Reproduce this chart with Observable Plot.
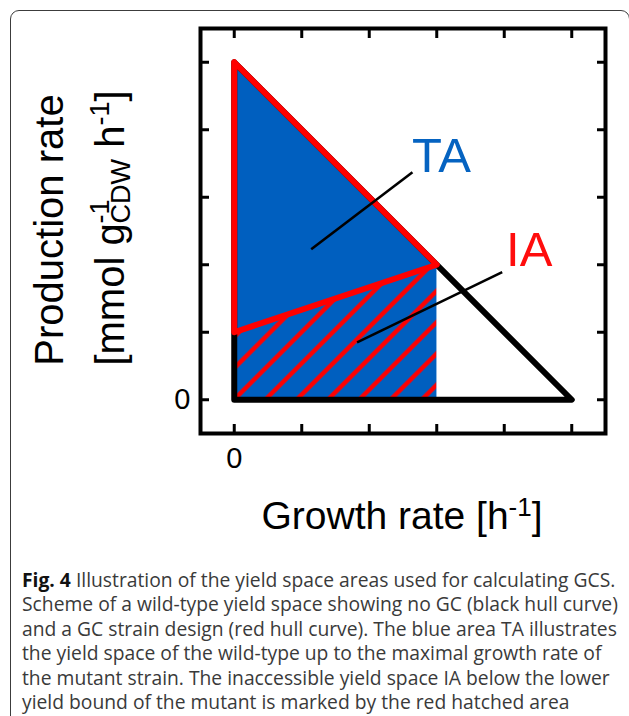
<!DOCTYPE html>
<html>
<head>
<meta charset="utf-8">
<script src="https://cdn.jsdelivr.net/npm/d3@7"></script>
<script src="https://cdn.jsdelivr.net/npm/@observablehq/plot@0.6"></script>
<style>
  html, body { margin: 0; padding: 0; background: #fff; width: 629px; height: 716px; overflow: hidden; }
  #card { position: absolute; left: 10px; top: 10px; width: 620px; height: 740px; border: 1.5px solid #3c3c3c; border-radius: 9px; box-sizing: border-box; }
  #chart { position: absolute; left: 0; top: 0; }
  #caption { position: absolute; left: 22px; top: 568px; font-family: "Open Sans", sans-serif; font-size: 19.3px; line-height: 24.4px; color: #3a3a3a; white-space: nowrap; }
  #caption b { color: #111; }
</style>
</head>
<body>
<div id="card"></div>
<div id="chart"></div>
<div id="caption"></div>
<script>
// ---- data ----
const xTicks = [0, 1, 2, 3, 4, 5];
const yTicks = [0, 1, 2, 3, 4, 5];
const tickLabelValues = [0];

// wild-type hull (black)
const wildX = [0, 0, 5, 0];
const wildY = [0, 5, 0, 0];
// mutant hull (red)
const mutX = [0, 3, 0, 0];
const mutY = [5, 2, 1, 5];
// TA area (blue): under wild-type upper bound up to mutant max growth
const taX = [0, 3];
const taTop = [5, 2];
// IA area (red hatched): under mutant lower bound
const iaX = [0, 3];
const iaTop = [1, 2];

// annotations
const annoText = ["TA", "IA"];
const annoX = [3.07, 4.37];
const annoY = [3.61, 2.22];
const annoColor = ["#0563c1", "#ff0d0d"];
const ptrX1 = [2.64, 3.97];
const ptrY1 = [3.37, 1.89];
const ptrX2 = [1.14, 1.82];
const ptrY2 = [2.23, 0.85];

const captionLines = [
  ["Fig. 4", " Illustration of the yield space areas used for calculating GCS."],
  ["", "Scheme of a wild-type yield space showing no GC (black hull curve)"],
  ["", "and a GC strain design (red hull curve). The blue area TA illustrates"],
  ["", "the yield space of the wild-type up to the maximal growth rate of"],
  ["", "the mutant strain. The inaccessible yield space IA below the lower"],
  ["", "yield bound of the mutant is marked by the red hatched area"]
];

// ---- build tables ----
const wild = wildX.map((x, i) => ({x, y: wildY[i]}));
const mut = mutX.map((x, i) => ({x, y: mutY[i]}));
const ta = taX.map((x, i) => ({x, y: taTop[i]}));
const ia = iaX.map((x, i) => ({x, y: iaTop[i]}));
const anno = annoText.map((t, i) => ({t, x: annoX[i], y: annoY[i], c: annoColor[i]}));
const ptr = ptrX1.map((x1, i) => ({x1, y1: ptrY1[i], x2: ptrX2[i], y2: ptrY2[i]}));

const BLUE = "#005fbf";
const RED = "#ff0000";

const chart = Plot.plot({
  width: 629,
  height: 560,
  marginLeft: 200,
  marginRight: 24,
  marginTop: 28,
  marginBottom: 127,
  x: {domain: [-0.5, 5.5]},
  y: {domain: [-0.5, 5.5]},
  style: {background: "transparent", fontFamily: "'Liberation Sans', Arial, sans-serif", color: "black", overflow: "visible"},
  marks: [
    Plot.areaY(ta, {x: "x", y1: 0, y2: "y", fill: BLUE, curve: "linear"}),
    Plot.areaY(ia, {x: "x", y1: 0, y2: "y", fill: "url(#iaHatch)", curve: "linear"}),
    Plot.line(wild, {x: "x", y: "y", stroke: "black", strokeWidth: 6, strokeLinejoin: "round", strokeLinecap: "round"}),
    Plot.line(mut, {x: "x", y: "y", stroke: RED, strokeWidth: 6, strokeLinejoin: "round", strokeLinecap: "round"}),
    Plot.link(ptr, {x1: "x1", y1: "y1", x2: "x2", y2: "y2", stroke: "black", strokeWidth: 2.6}),
    Plot.text(anno, {x: "x", y: "y", text: "t", fill: "c", fontSize: 49, lineAnchor: "middle", textAnchor: "middle"}),
    Plot.frame({stroke: "black", strokeWidth: 4}),
    Plot.axisX(xTicks, {anchor: "bottom", tickSize: -9, strokeWidth: 3, fill: "none", label: null}),
    Plot.axisX(xTicks, {anchor: "top", tickSize: -9, strokeWidth: 3, fill: "none", label: null}),
    Plot.axisY(yTicks, {anchor: "left", tickSize: -9, strokeWidth: 3, fill: "none", label: null}),
    Plot.axisY(yTicks, {anchor: "right", tickSize: -9, strokeWidth: 3, fill: "none", label: null}),
    Plot.axisX(tickLabelValues, {anchor: "bottom", tickSize: 0, tickPadding: 14, fontSize: 29, label: null, fill: "black", tickFormat: (d) => String(d)}),
    Plot.axisY(tickLabelValues, {anchor: "left", tickSize: 0, tickPadding: 10, fontSize: 29, label: null, fill: "black", tickFormat: (d) => String(d)})
  ]
});

document.getElementById("chart").appendChild(chart);

const svg = d3.select(chart);
// hatch pattern for the IA area
const defs = svg.insert("defs", ":first-child");
const hw = 31.3 / Math.SQRT2;
const pat = defs.append("pattern")
  .attr("id", "iaHatch")
  .attr("patternUnits", "userSpaceOnUse")
  .attr("width", hw)
  .attr("height", hw)
  .attr("patternTransform", "translate(23.35,0) rotate(45)");
pat.append("rect").attr("width", hw).attr("height", hw).attr("fill", BLUE);
pat.append("rect").attr("x", hw / 2 - 2.2).attr("y", 0).attr("width", 4.4).attr("height", hw)
  .attr("fill", RED);

// axis titles with super/subscripts
function richLabel(tx, ty, rot, fontSize, parts) {
  const t = svg.append("text")
    .attr("transform", `translate(${tx},${ty}) rotate(${rot})`)
    .attr("font-family", "'Liberation Sans', Arial, sans-serif")
    .attr("font-size", fontSize)
    .attr("fill", "black")
    .attr("text-anchor", "middle");
  let shift = 0;
  let lastLen = 0;
  for (const p of parts) {
    const target = p.shift || 0;
    const ts = t.append("tspan").text(p.t).attr("dy", target - shift);
    if (p.size) ts.attr("font-size", p.size);
    if (p.back) ts.attr("dx", -lastLen);
    shift = target;
    lastLen = ts.node().getComputedTextLength();
  }
  return t;
}

richLabel(402, 529, 0, 39, [
  {t: "Growth rate [h"},
  {t: "-1", size: 26, shift: -13},
  {t: "]"}
]);
richLabel(63, 230, -90, 40, [
  {t: "Production rate"}
]);
richLabel(124, 228, -90, 40, [
  {t: "[mmol g"},
  {t: "-1", size: 27, shift: -15},
  {t: "CDW", size: 27, shift: 6, back: true},
  {t: " h"},
  {t: "-1", size: 27, shift: -15},
  {t: "]"}
]);

// caption
const cap = d3.select("#caption");
captionLines.forEach(([bold, rest], i) => {
  if (i > 0) cap.append("br");
  if (bold) cap.append("b").text(bold);
  cap.append("span").text(rest);
});
</script>
</body>
</html>
